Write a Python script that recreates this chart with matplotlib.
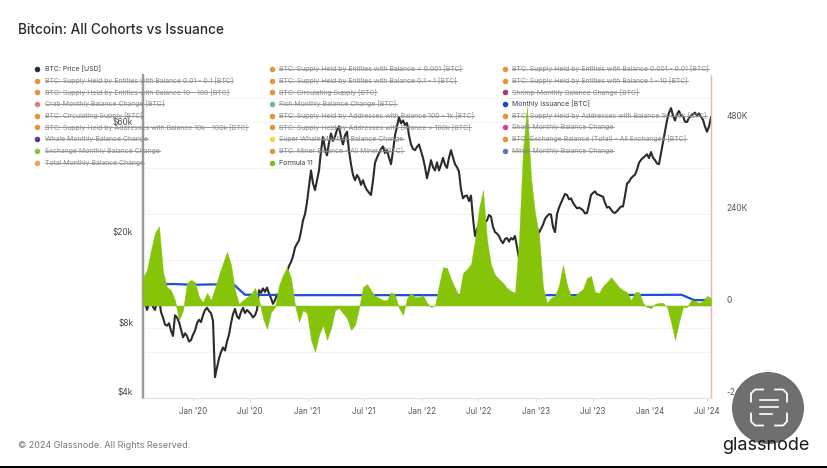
import pandas as pd
import matplotlib
matplotlib.use("Agg")
import matplotlib.pyplot as plt
from matplotlib.patches import Circle, Rectangle

plt.rcParams["font.family"] = ["Inter", "DejaVu Sans"]

START = "2019-07-25"
END = "2024-07-13"

# BTC price, thousand USD
price_k = [
    10.0, 10.4, 9.6, 10.2, 10.6, 9.9, 9.6, 10.5, 10.8, 9.4,
    8.9, 8.3, 8.2, 8.4, 7.8, 7.4, 9.1, 8.9, 8.5, 7.9,
    7.3, 7.6, 7.4, 7.0, 7.1, 7.5, 7.8, 8.4, 8.7, 8.5,
    9.1, 9.6, 9.8, 9.5, 9.3, 8.6, 4.9, 5.4, 5.9, 6.3,
    6.6, 6.4, 7.0, 7.5, 8.4, 9.2, 9.7, 9.0, 8.8, 9.4,
    9.8, 9.3, 9.6, 9.4, 9.2, 8.9, 9.1, 9.6, 11.7, 11.4,
    11.9, 11.5, 12.0, 11.3, 10.8, 10.2, 10.6, 11.2, 10.9, 11.5,
    12.4, 13.4, 14.0, 14.9, 15.5, 16.4, 17.9, 18.6, 19.2, 21,
    23.5, 25, 28.2, 33, 38.7, 34, 31.8, 35, 38.7, 47,
    54.2, 48, 45, 51, 56, 52, 54.4, 58, 60.2, 54,
    50.2, 55, 57, 47, 41.2, 37, 35.1, 37, 35.8, 33.5,
    35.1, 33, 31.8, 31, 30.3, 35, 41.8, 44, 46, 48,
    49.2, 46, 47.4, 44, 41.2, 47, 54.9, 60, 65.9, 62,
    63.8, 61, 62.2, 55, 50.2, 48, 47.4, 49, 50.2, 47,
    43.9, 40, 35.8, 39, 42.9, 40, 38.7, 42, 38.7, 41,
    43.9, 41, 39.7, 44, 47.4, 44, 41.2, 40, 38.2, 32,
    29.3, 30, 30.1, 28.5, 30.1, 24, 20.1, 21.5, 22.5, 21.3,
    22.5, 23, 23.5, 24.8, 24.4, 22, 20.9, 20.6, 20.1, 19.2,
    18.7, 19.5, 19.7, 19, 19.7, 19.4, 20.1, 18, 16.1, 17.5,
    18.5, 20, 21, 22, 22.2, 22.8, 22.5, 21.5, 20.8, 21.6,
    22.5, 23.8, 24.5, 25, 24.9, 22, 20.9, 25, 26.7, 28,
    29.3, 30.6, 30.3, 29, 29.3, 28, 27.2, 26.5, 26.7, 26.4,
    26, 25.2, 25.3, 27.5, 30.3, 30.9, 31.4, 30.5, 30.3, 30,
    29.8, 28, 26.7, 26.9, 26.2, 25.5, 25.3, 25.8, 26.4, 27,
    27, 30, 34, 34.5, 35.8, 36.5, 37.1, 39, 41.8, 43,
    43.9, 44.6, 45.5, 43.8, 46.5, 44, 42.9, 41.5, 41.2, 46,
    51.3, 57, 63.8, 69, 72.2, 67, 63.8, 68, 70.1, 67,
    66.4, 63, 62.8, 65.5, 66.9, 68, 69, 67, 68.5, 66,
    64.3, 60, 57, 60, 65.9,
]

# Formula 11, thousand BTC
formula_k = [
    74, 93, 145, 189, 207, 87, 48, 40, 14, -38, -12, 59, 67, 61, 22, 9, 33, 14, 46, 80, 111, 140,
    106, 40, 4, 14, 22, 30, 46, 14, -33, -61, -17, -4, 53, 80, 100, 72, 1, -43, -12, -20, -90,
    -121, -77, -51, -90, -59, -12, -7, -20, -33, -64, -51, -7, 48, 56, 40, 25, 20, 14, 14, 35,
    27, -7, -25, 20, 33, 22, 22, 27, 7, -4, 1, 53, 100, 98, 69, 46, 25, 85, 95, 108, 171, 254,
    301, 171, 106, 80, 69, 59, 46, 38, 33, 171, 406, 518, 333, 241, 184, 48, 7, 20, 25, 53, 106,
    53, 25, 25, 35, 43, 72, 77, 35, 33, 51, 61, 74, 61, 48, 40, 35, 14, 35, 35, 7, -4, -7, 4, 7,
    7, -4, -43, -90, -43, -4, -4, 14, 12, 7, 12, 25, 20,
]

issuance_dates = ["2019-07-25", "2019-11-01", "2020-01-01", "2020-03-01", "2020-05-11", "2020-06-15",
                  "2020-12-01", "2021-07-01", "2022-07-01", "2023-07-01", "2024-04-10", "2024-05-20",
                  "2024-07-13"]
issuance_k = [56, 56, 54, 55, 54, 28, 27, 27, 27, 27, 28, 14, 14]

left_ticks = [4000, 8000, 20000, 60000]
left_labels = ["$4k", "$8k", "$20k", "$60k"]
right_ticks = [-240, 0, 240, 480]
right_labels = ["-240K", "0", "240K", "480K"]
x_ticks = ["2020-01-01", "2020-07-01", "2021-01-01", "2021-07-01", "2022-01-01",
           "2022-07-01", "2023-01-01", "2023-07-01", "2024-01-01", "2024-07-01"]
x_labels = ["Jan '20", "Jul '20", "Jan '21", "Jul '21", "Jan '22",
            "Jul '22", "Jan '23", "Jul '23", "Jan '24", "Jul '24"]

ent = "BTC: Supply Held by Entities with Balance "
adr = "BTC: Supply Held by Addresses with Balance "
orange = "#e8923a"
# name, dot colour, switched on
legend_cols = [
    [("BTC: Price [USD]", "#2b2b33", True),
     (ent + "0.01 - 0.1 [BTC]", orange, False),
     (ent + "10 - 100 [BTC]", orange, False),
     ("Crab Monthly Balance Change [BTC]", "#e57f7f", False),
     ("BTC: Circulating Supply [BTC]", orange, False),
     (adr + "10k - 100k [BTC]", orange, False),
     ("Whale Monthly Balance Change", "#5b35a8", False),
     ("Exchange Monthly Balance Change", "#84c441", False),
     ("Total Monthly Balance Change", "#eda55c", False)],
    [(ent + "< 0.001 [BTC]", orange, False),
     (ent + "0.1 - 1 [BTC]", orange, False),
     ("BTC: Circulating Supply [BTC]", orange, False),
     ("Fish Monthly Balance Change [BTC]", "#6fb3b0", False),
     (adr + "100 - 1k [BTC]", orange, False),
     (adr + "> 100k [BTC]", orange, False),
     ("Super Whale Monthly Balance Change", "#eedc3c", False),
     ("BTC: Miner Balance - All Miners [BTC]", "#e0973d", False),
     ("Formula 11", "#7ebc1f", True)],
    [(ent + "0.001 - 0.01 [BTC]", orange, False),
     (ent + "1 - 10 [BTC]", orange, False),
     ("Shrimp Monthly Balance Change [BTC]", "#a0406f", False),
     ("Monthly Issuance [BTC]", "#1446e6", True),
     (adr + "1k - 10k [BTC]", orange, False),
     ("Shark Monthly Balance Change", "#d93f96", False),
     ("BTC: Exchange Balance (Total) - All Exchanges [BTC]", orange, False),
     ("Miner Monthly Balance Change", "#4f7fb8", False)],
]

price_dates = pd.date_range(START, END, periods=len(price_k))
formula_dates = pd.date_range(START, END, periods=len(formula_k))
price = [v * 1000 for v in price_k]

W, H = 828, 468
fig = plt.figure(figsize=(W / 100, H / 100), dpi=100)
ax = fig.add_axes([143 / W, 1 - 397.5 / H, 568 / W, 322 / H])
ax2 = ax.twinx()

ax.plot(price_dates, price, color="#2b2b2f", lw=1.5)
ax.set_yscale("log")
ax.set_ylim(4000, 100000)
ax.set_xlim(pd.Timestamp(START), pd.Timestamp(END))
ax.set_yticks(left_ticks, left_labels)
ax.minorticks_off()
ax.yaxis.set_tick_params(which="both", length=0, pad=7, labelsize=6, labelcolor="#444444")
ax.set_xticks(pd.to_datetime(x_ticks), x_labels)
ax.tick_params(axis="x", length=2, color="#e6e6e6", pad=5, labelsize=5.7, labelcolor="#555555")
plt.setp(ax.get_yticklabels(), va="bottom")
for v in [8000, 80000]:
    ax.axhline(v, color="#f3f3f3", lw=0.7, zorder=0)

ax2.plot(pd.to_datetime(issuance_dates), issuance_k, color="#1c4fd8", lw=1.6, zorder=2)
ax2.fill_between(formula_dates, 0, formula_k, color="#86c40a", lw=0.3, zorder=3)
ax2.set_ylim(-240, 600)
ax2.set_yticks(right_ticks, right_labels)
ax2.tick_params(axis="y", length=0, pad=11, labelsize=6, labelcolor="#555555")
plt.setp(ax2.get_yticklabels(), va="bottom")
for v in range(-120, 600, 120):
    ax.axhline(4000 * 25 ** ((v + 240) / 840), color="#f3f3f3", lw=0.7, zorder=0)

for a in (ax, ax2):
    a.spines["top"].set_visible(False)
    a.spines["left"].set_color("#9a9a9a")
    a.spines["left"].set_linewidth(1.6)
    a.spines["right"].set_color("#e9b9b0")
    a.spines["right"].set_linewidth(0.9)
    a.spines["bottom"].set_color("#e4e4e4")
    a.spines["bottom"].set_linewidth(0.8)

# overlay in pixel units for legend, title, footer and the badge
top = fig.add_axes([0, 0, 1, 1], zorder=10)
top.set_xlim(0, W)
top.set_ylim(H, 0)
top.axis("off")

top.text(18, 30, "Bitcoin: All Cohorts vs Issuance", fontsize=9.8, fontweight="medium",
         color="#2a2a35", va="center")
top.text(18, 445.5, "© 2024 Glassnode. All Rights Reserved.", fontsize=6.5, color="#777777", va="center")

col_x = [37.5, 272, 505]
row_y = [69, 80.7, 92.3, 104, 116, 127.3, 139, 151, 163]
fig.canvas.draw()
renderer = fig.canvas.get_renderer()
for cx, col in zip(col_x, legend_cols):
    for ry, (name, dot, shown) in zip(row_y, col):
        top.scatter([cx], [ry], s=16, color=dot, lw=0)
        t = top.text(cx + 7.5, ry, name, fontsize=4.98, va="center",
                     color="#3a3a44" if shown else "#8a8a8a")
        if not shown:
            box = t.get_window_extent(renderer)
            top.plot([box.x0, box.x1], [ry, ry], color="#8a8a8a", lw=0.6)

top.add_patch(Circle((768, 408), 36, color="#6f6f6f", lw=0))
for sx, sy in [(-1, -1), (1, -1), (-1, 1), (1, 1)]:
    xs = [769 + sx * 6, 769 + sx * 14, 769 + sx * 18, 769 + sx * 18]
    ys = [407.5 + sy * 18, 407.5 + sy * 18, 407.5 + sy * 14, 407.5 + sy * 6]
    top.plot(xs, ys, color="white", lw=1.3)
for x1, ly in [(778, 399.5), (778, 406.5), (772, 413.5)]:
    top.plot([760, x1], [ly, ly], color="white", lw=1.2)
top.text(766, 445, "glassnode", fontsize=13, color="#1a1a1a", ha="center", va="center")

# dark strip along the bottom of the screenshot
top.add_patch(Rectangle((0, 466), W, 2, color="black", lw=0))

fig.savefig("out.png", dpi=100)
